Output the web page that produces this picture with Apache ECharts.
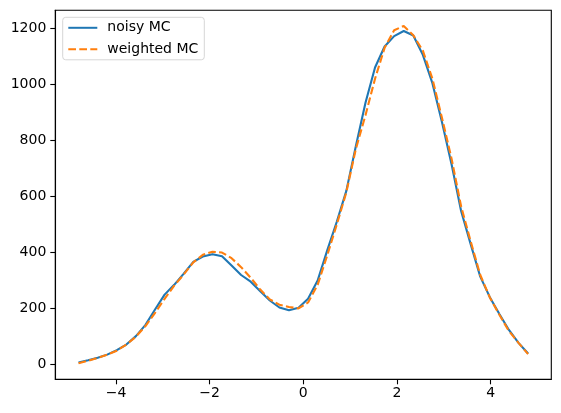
<!DOCTYPE html>
<html>
<head>
<meta charset="utf-8">
<script src="https://cdn.jsdelivr.net/npm/echarts@6/dist/echarts.min.js"></script>
<style>
html,body{margin:0;padding:0;background:#fff;}
#chart{width:561px;height:413px;}
</style>
</head>
<body>
<div id="chart"></div>
<script>
var xs = [-4.8, -4.596, -4.391, -4.187, -3.983, -3.779, -3.574, -3.37, -3.166, -2.962,
  -2.757, -2.553, -2.349, -2.145, -1.94, -1.736, -1.532, -1.328, -1.123, -0.919,
  -0.715, -0.511, -0.306, -0.102, 0.102, 0.306, 0.511, 0.715, 0.919, 1.123,
  1.328, 1.532, 1.736, 1.94, 2.145, 2.349, 2.553, 2.757, 2.962, 3.166,
  3.37, 3.574, 3.779, 3.983, 4.187, 4.391, 4.596, 4.8];
var noisyMC = [8, 16, 25, 36, 52, 72, 102, 142, 197, 250,
  285, 325, 367, 386, 394, 387, 354, 320, 296, 262,
  229, 204, 194, 203, 235, 300, 408, 510, 620, 780,
  934, 1060, 1135, 1172, 1190, 1174, 1105, 1004, 865, 715,
  548, 430, 314, 241, 181, 124, 78, 40];
var weightedMC = [5, 14, 24, 36, 50, 72, 100, 138, 185, 235,
  282, 322, 365, 392, 403, 400, 380, 348, 310, 268,
  233, 214, 206, 201, 222, 285, 390, 500, 615, 770,
  890, 1020, 1130, 1193, 1208, 1175, 1120, 1020, 880, 735,
  565, 440, 320, 240, 178, 120, 78, 38];
var xTicks = [-4, -2, 0, 2, 4];
var yTicks = [0, 200, 400, 600, 800, 1000, 1200];
var seriesNames = ['noisy MC', 'weighted MC'];

function pairs(ys) { return xs.map(function (x, i) { return [x, ys[i]]; }); }
function fmt(v) { return String(v).replace('-', '\u2212'); }

var font = 'DejaVu Sans';
var chart = echarts.init(document.getElementById('chart'), null, {renderer: 'canvas'});
chart.setOption({
  animation: false,
  backgroundColor: '#ffffff',
  grid: {left: 55.3, right: 9.7, top: 10.3, bottom: 33.7, show: true,
         borderColor: '#000', borderWidth: 1.1, backgroundColor: 'transparent'},
  legend: {
    orient: 'vertical', left: 62.7, top: 17.3,
    data: seriesNames,
    itemWidth: 29, itemHeight: 14, itemGap: 7.5,
    padding: [3.5, 6, 3.5, 4.6],
    borderColor: '#d6d6d6', borderWidth: 1, borderRadius: 3,
    backgroundColor: 'rgba(255,255,255,0.8)',
    itemStyle: {opacity: 0},
    textStyle: {fontFamily: font, fontSize: 14, color: '#000', padding: [0, 0, 0, 5]}
  },
  xAxis: {
    type: 'value', min: -5.296, max: 5.296,
    splitLine: {show: false},
    axisLine: {show: true, onZero: false, lineStyle: {color: '#000', width: 1.1}},
    axisTick: {show: true, customValues: xTicks, length: 5, lineStyle: {color: '#000', width: 1.1}},
    axisLabel: {customValues: xTicks, formatter: fmt, margin: 7,
                fontFamily: font, fontSize: 14, color: '#000'}
  },
  yAxis: {
    type: 'value', min: -52, max: 1264,
    splitLine: {show: false},
    axisLine: {show: true, onZero: false, lineStyle: {color: '#000', width: 1.1}},
    axisTick: {show: true, customValues: yTicks, length: 5, lineStyle: {color: '#000', width: 1.1}},
    axisLabel: {customValues: yTicks, formatter: fmt, margin: 9,
                fontFamily: font, fontSize: 14, color: '#000'}
  },
  series: [
    {name: seriesNames[0], type: 'line', data: pairs(noisyMC), symbol: 'none',
     color: '#1f77b4', lineStyle: {color: '#1f77b4', width: 2.1}},
    {name: seriesNames[1], type: 'line', data: pairs(weightedMC), symbol: 'none',
     color: '#ff7f0e', lineStyle: {color: '#ff7f0e', width: 2.1, type: [7.7, 3.3]}}
  ]
});
</script>
</body>
</html>
